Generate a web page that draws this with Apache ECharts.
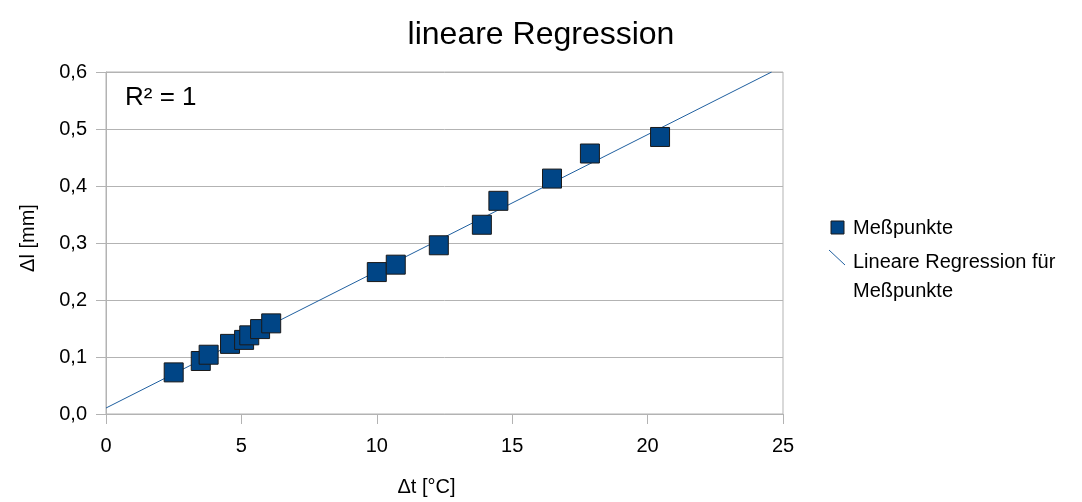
<!DOCTYPE html>
<html lang="de">
<head>
    <meta charset="UTF-8">
    <title>lineare Regression</title>
    <style>
        html, body { margin: 0; padding: 0; background: #fff; }
    </style>
</head>
<body>
<script src="https://cdn.jsdelivr.net/npm/echarts@6/dist/echarts.min.js"></script>
<div id="main" style="width: 1082px;height:502px;"></div>

<script>
    // Messwerte: Temperaturdifferenz (x) und Laengenaenderung (y)
    var dt = [2.5, 3.5, 3.79, 4.58, 5.1, 5.29, 5.69, 6.1, 10.0, 10.7, 12.29, 13.88, 14.49, 16.47, 17.87, 20.46];
    var dl = [0.073, 0.093, 0.104, 0.123, 0.130, 0.138, 0.149, 0.159, 0.249, 0.262, 0.296, 0.332, 0.374, 0.413, 0.457, 0.486];

    // Regressionsgerade (Endpunkte)
    var fitX = [0, 24.58];
    var fitY = [0.0105, 0.6];

    var seriesNames = ['Meßpunkte', 'Lineare Regression für Meßpunkte'];

    var points = [];
    for (var i = 0; i < dt.length; i++) {
        points.push([dt[i], dl[i]]);
    }
    var fitLine = [];
    for (var j = 0; j < fitX.length; j++) {
        fitLine.push([fitX[j], fitY[j]]);
    }

    var font = 'Liberation Sans, Arial, sans-serif';
    var grey = '#b3b3b3';
    var pointColor = '#004586';
    var lineColor = '#1f5f9f';

    var myChart = echarts.init(document.getElementById('main'));

    // Legende von Hand, damit das Linien-Symbol an der ersten Textzeile steht
    var legendGraphic = [
        { type: 'rect', shape: { x: 831, y: 221, width: 13, height: 13 },
          style: { fill: pointColor, stroke: '#1a1a1a', lineWidth: 1 } },
        { type: 'text', style: { x: 853, y: 228, text: 'Meßpunkte', font: '20px ' + font,
          fill: '#000', verticalAlign: 'middle' } },
        { type: 'line', shape: { x1: 829, y1: 250, x2: 845, y2: 265 },
          style: { stroke: lineColor, lineWidth: 1 } },
        { type: 'text', style: { x: 853, y: 262, text: 'Lineare Regression für', font: '20px ' + font,
          fill: '#000', verticalAlign: 'middle' } },
        { type: 'text', style: { x: 853, y: 291, text: 'Meßpunkte', font: '20px ' + font,
          fill: '#000', verticalAlign: 'middle' } }
    ];

    var option = {
        animation: false,
        title: {
            text: 'lineare Regression',
            left: 'center',
            top: 14,
            textStyle: { fontFamily: font, fontSize: 32, fontWeight: 'normal', color: '#000' }
        },
        grid: {
            left: 106, right: 299, top: 72, bottom: 87,
            show: true, borderColor: grey, borderWidth: 1
        },
        xAxis: {
            type: 'value',
            min: 0, max: 25, interval: 5,
            name: 'Δt [°C]',
            nameLocation: 'middle',
            nameGap: 63,
            nameTextStyle: { fontFamily: font, fontSize: 20, color: '#000', padding: [0, 36, 0, 0] },
            axisLine: { lineStyle: { color: grey } },
            axisTick: { show: true, length: 10, lineStyle: { color: grey } },
            axisLabel: { fontFamily: font, fontSize: 20, color: '#000', margin: 22 },
            splitLine: { show: false }
        },
        yAxis: {
            type: 'value',
            min: 0, max: 0.6, interval: 0.1,
            name: 'Δl [mm]',
            nameLocation: 'middle',
            nameGap: 68,
            nameTextStyle: { fontFamily: font, fontSize: 20, color: '#000', padding: [0, 0, 0, 10] },
            axisLine: { show: true, lineStyle: { color: grey } },
            axisTick: { show: true, length: 10, lineStyle: { color: grey } },
            axisLabel: {
                fontFamily: font, fontSize: 20, color: '#000', margin: 19,
                formatter: function (v) { return v.toFixed(1).replace('.', ','); }
            },
            splitLine: { show: true, lineStyle: { color: grey } }
        },
        graphic: [{
            type: 'text',
            left: 125,
            top: 85,
            style: { text: 'R² = 1', font: '26px ' + font, fill: '#000' }
        }].concat(legendGraphic),
        series: [
            {
                name: seriesNames[1],
                type: 'line',
                data: fitLine,
                showSymbol: false,
                lineStyle: { color: lineColor, width: 1 },
                itemStyle: { color: lineColor },
                z: 1
            },
            {
                name: seriesNames[0],
                type: 'scatter',
                data: points,
                symbol: 'rect',
                symbolSize: 19,
                itemStyle: { color: pointColor, borderColor: '#1a1a1a', borderWidth: 1, opacity: 1 },
                z: 2
            }
        ]
    };

    myChart.setOption(option);
</script>
</body>
</html>
